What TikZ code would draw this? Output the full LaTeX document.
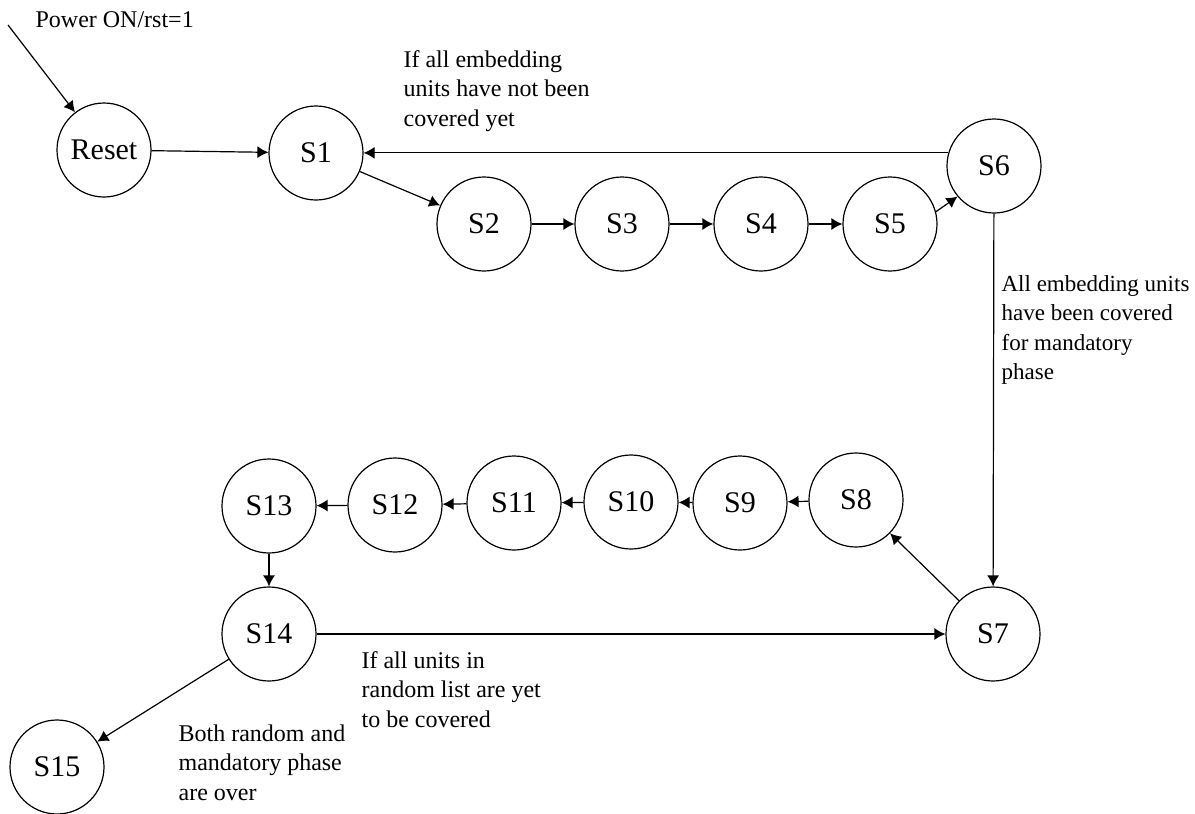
\documentclass[tikz,border=0pt]{standalone}
\usepackage{fontspec}
\setmainfont{Liberation Serif}
\usetikzlibrary{arrows.meta}

\begin{document}
\begin{tikzpicture}[>={Latex[length=5.5pt,width=6pt]}, x=0.5pt, y=-0.5pt, line width=0.6pt,
    state/.style={draw, circle, minimum size=47pt, inner sep=0pt, font=\fontsize{15}{18}\selectfont},
    note/.style={anchor=north west, align=left, inner sep=0pt, font=\fontsize{12}{14.7}\selectfont}]
    \useasboundingbox (0,0) rectangle (1195,814);

    % 1. Các trạng thái: hàng trên Reset, S1 ... S6
    \node[state] (reset) at (104,150) {Reset};
    \node[state] (s1) at (316,153) {S1};
    \node[state] (s2) at (484,224) {S2};
    \node[state] (s3) at (622,224) {S3};
    \node[state] (s4) at (761,224) {S4};
    \node[state] (s5) at (890,224) {S5};
    \node[state] (s6) at (994,166) {S6};

    % Hàng dưới S7 ... S15
    \node[state] (s7) at (993,634) {S7};
    \node[state] (s8) at (856,500) {S8};
    \node[state] (s9) at (740,503) {S9};
    \node[state] (s10) at (631,502) {S10};
    \node[state] (s11) at (514,503) {S11};
    \node[state] (s12) at (395,505) {S12};
    \node[state] (s13) at (269,506) {S13};
    \node[state] (s14) at (269,634) {S14};
    \node[state] (s15) at (57,767) {S15};

    % 2. Mũi tên khởi động vào Reset
    \coordinate (pwr) at (8,25);
    \node[anchor=base west, inner sep=0pt, font=\fontsize{12}{14.7}\selectfont] (pwrtxt) at (35,27) {Power ON/rst=1};
    \draw[->] (pwr) -- (reset);
    \draw[->] (reset) -- (s1);

    % Pha bắt buộc S1 -> S6
    \draw[->] (s1) -- (s2);
    \foreach \a/\b in {s2/s3, s3/s4, s4/s5} \draw[->] (\a) -- (\b);
    \draw[->] (s5.15) -- (s6.220);
    \draw[->] (s6.164) -- (s6.164 -| s1.east); % quay lại S1
    \node[note] (notloop) at (403,50) {If all embedding\\units have not been\\covered yet};

    % S6 xuống S7
    \draw[->] (s6) -- (s7);
    \node[note, font=\fontsize{11.5}{14.7}\selectfont] (allcov) at (1001,275) {All embedding units\\have been covered\\for mandatory\\phase};

    % 3. Pha ngẫu nhiên S7 -> S14
    \draw[->] (s7) -- (s8);
    \foreach \a/\b in {s8/s9, s9/s10, s10/s11, s11/s12, s12/s13} \draw[->] (\a) -- (\b);
    \draw[->] (s13) -- (s14);
    \draw[->] (s14) -- (s7);
    \node[note] (randtxt) at (361,651) {If all units in\\random list are yet\\to be covered};

    % Kết thúc tại S15
    \draw[->] (s14) -- (s15);
    \node[note] (bothtxt) at (178,724) {Both random and\\mandatory phase\\are over};

\end{tikzpicture}
\end{document}
